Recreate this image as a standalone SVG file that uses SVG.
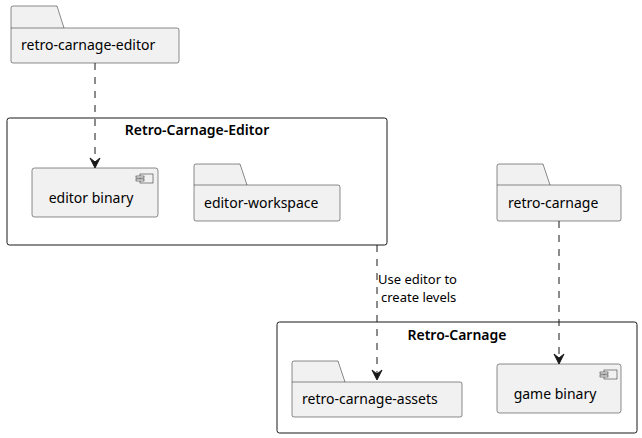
<svg xmlns="http://www.w3.org/2000/svg" width="642" height="438" viewBox="0 0 642 438">
<style>
.n{fill:#F1F1F1;stroke:#181818;stroke-width:0.5}
.c{fill:none;stroke:#181818;stroke-width:1}
.t{font-family:"Noto Sans","DejaVu Sans",sans-serif;font-size:14px;fill:#000}
.b{font-family:"Noto Sans","DejaVu Sans",sans-serif;font-size:14px;font-weight:600;fill:#000}
.l{font-family:"Noto Sans","DejaVu Sans",sans-serif;font-size:13px;fill:#000}
.e{fill:none;stroke:#181818;stroke-width:1;stroke-dasharray:7,7}
.a{fill:#181818;stroke:#181818}
</style>
<defs>
<g id="ico"><rect x="4" y="0" width="13" height="9" class="n"/><rect x="0" y="2" width="8" height="2" class="n"/><rect x="0" y="5" width="8" height="2" class="n"/></g>
</defs>
<g id="Retro-Carnage-Editor">
<rect x="7" y="118" width="380" height="127" rx="2.5" class="c"/>
<text x="197" y="135" text-anchor="middle" class="b">Retro-Carnage-Editor</text>
</g>
<g id="Retro-Carnage">
<rect x="277" y="322" width="360" height="111" rx="2.5" class="c"/>
<text x="457" y="340" text-anchor="middle" class="b">Retro-Carnage</text>
</g>
<g id="retro-carnage-editor">
<path d="M13,6 L57,6 L64,28 L177,28 Q179,28 179,30 L179,61 Q179,63 177,63 L13,63 Q11,63 11,61 L11,8 Q11,6 13,6 Z" class="n"/>
<line x1="11" y1="28" x2="64" y2="28" class="n"/>
<text x="21" y="50" class="t">retro-carnage-editor</text>
</g>
<g id="editor-binary">
<rect x="32" y="168" width="126" height="49" rx="2.5" class="n"/>
<use href="#ico" x="136" y="174"/>
<text x="91" y="203" text-anchor="middle" class="t">editor binary</text>
</g>
<g id="editor-workspace">
<path d="M196,164 L240,164 L247,185 L338,185 Q340,185 340,187 L340,219 Q340,221 338,221 L196,221 Q194,221 194,219 L194,166 Q194,164 196,164 Z" class="n"/>
<line x1="194" y1="185" x2="247" y2="185" class="n"/>
<text x="204" y="208" class="t">editor-workspace</text>
</g>
<g id="retro-carnage">
<path d="M499,164 L543,164 L550,185 L619,185 Q621,185 621,187 L621,219 Q621,221 619,221 L499,221 Q497,221 497,219 L497,166 Q497,164 499,164 Z" class="n"/>
<line x1="497" y1="185" x2="550" y2="185" class="n"/>
<text x="508" y="208" class="t">retro-carnage</text>
</g>
<g id="retro-carnage-assets">
<path d="M294,361 L338,361 L345,382 L460,382 Q462,382 462,384 L462,415 Q462,417 460,417 L294,417 Q292,417 292,415 L292,363 Q292,361 294,361 Z" class="n"/>
<line x1="292" y1="382" x2="345" y2="382" class="n"/>
<text x="302" y="404" class="t">retro-carnage-assets</text>
</g>
<g id="game-binary">
<rect x="497" y="364" width="124" height="49" rx="2.5" class="n"/>
<use href="#ico" x="600" y="370"/>
<text x="555" y="399" text-anchor="middle" class="t">game binary</text>
</g>
<g id="connectors">
<line x1="95" y1="63" x2="95" y2="166" class="e"/>
<polygon points="95,168 90,158 95,162 100,158" class="a"/>
<line x1="377" y1="245" x2="377" y2="378" class="e"/>
<polygon points="377,380 372,370 377,374 382,370" class="a"/>
<text x="378" y="284" class="l">Use editor to</text>
<text x="381" y="302" class="l">create levels</text>
<line x1="559" y1="221" x2="559" y2="362" class="e"/>
<polygon points="559,364 554,354 559,358 564,354" class="a"/>
</g>
</svg>
